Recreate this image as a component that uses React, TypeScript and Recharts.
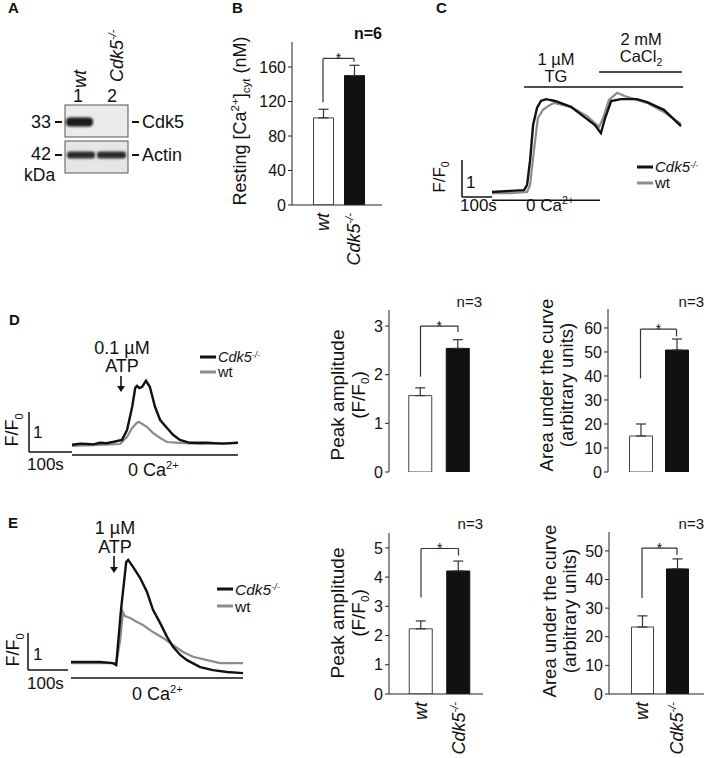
import React from 'react';
import { BarChart, Bar, Cell, XAxis, YAxis, ErrorBar, ReferenceLine, LineChart, Line } from 'recharts';

const FONT = '"Liberation Sans", Arial, Helvetica, sans-serif';

// ---------- bar data ----------
const groups = ['wt', 'Cdk5-/-'];
const restingCa = [101, 150];
const restingCaErr = [10, 12];
const peakLowAtp = [1.57, 2.54];
const peakLowAtpErr = [0.16, 0.18];
const aucLowAtp = [15, 50.8];
const aucLowAtpErr = [5, 4.6];
const peakHighAtp = [2.23, 4.21];
const peakHighAtpErr = [0.27, 0.34];
const aucHighAtp = [23.4, 43.7];
const aucHighAtpErr = [3.9, 3.5];

// significance brackets: [start above wt, top, end above Cdk5]
const bracketB = [119, 170, 166];
const bracketD1 = [1.96, 3.0, 2.88];
const bracketD2 = [39, 59.5, 56.5];
const bracketE1 = [3.3, 4.98, 4.74];
const bracketE2 = [33.5, 51, 48.6];

// tick labels
const ticksB = [0, 40, 80, 120, 160];
const ticksPeakLow = [0, 1, 2, 3];
const ticksAucLow = [0, 10, 20, 30, 40, 50, 60];
const ticksPeakHigh = [0, 1, 2, 3, 4, 5];
const ticksAucHigh = [0, 10, 20, 30, 40, 50];

// ---------- traces (time s, F/F0) ----------
const cTimeCdk5 = [0, 60, 107, 117, 127, 137, 150, 163, 180, 210, 263, 317, 343, 363, 377, 397, 430, 483, 517, 573, 630];
const cCdk5 = [1.0, 1.03, 1.05, 1.19, 1.86, 2.81, 3.27, 3.46, 3.51, 3.46, 3.3, 2.97, 2.81, 2.59, 3.0, 3.46, 3.51, 3.51, 3.43, 3.22, 2.78];
const cTimeWt = [0, 60, 117, 127, 140, 153, 170, 187, 207, 263, 317, 357, 370, 390, 417, 450, 517, 573, 630];
const cWt = [0.97, 0.97, 1.0, 1.19, 2.14, 3.0, 3.22, 3.32, 3.41, 3.3, 3.05, 2.76, 3.0, 3.49, 3.68, 3.57, 3.41, 3.16, 2.84];

const dTimeCdk5 = [0, 20, 35, 50, 65, 80, 95, 116, 128, 140, 147, 151, 157, 163, 172, 181, 193, 205, 221, 235, 251, 274, 314, 350, 386];
const dCdk5 = [0.98, 1.01, 1.0, 0.99, 1.03, 1.02, 1.05, 1.1, 1.35, 1.93, 2.4, 2.45, 2.4, 2.43, 2.58, 2.43, 1.93, 1.6, 1.4, 1.23, 1.1, 1.03, 1.03, 1.01, 1.03];
const dTimeWt = [0, 65, 112, 128, 140, 151, 156, 174, 188, 205, 221, 251, 298, 386];
const dWt = [0.95, 0.98, 1.0, 1.18, 1.4, 1.53, 1.55, 1.43, 1.28, 1.15, 1.05, 1.03, 1.0, 1.03];

const eTimeCdk5 = [0, 73, 105, 113, 125, 138, 143, 155, 173, 190, 205, 223, 240, 255, 273, 290, 323, 355, 390, 430];
const eCdk5 = [1.0, 1.0, 0.97, 0.92, 2.41, 3.7, 3.76, 3.57, 3.27, 2.89, 2.41, 2.05, 1.68, 1.41, 1.19, 1.05, 0.86, 0.78, 0.73, 0.7];
const eTimeWt = [0, 105, 113, 123, 130, 135, 148, 165, 180, 205, 230, 255, 280, 305, 340, 373, 405, 430];
const eWt = [0.97, 0.97, 0.95, 1.59, 2.35, 2.24, 2.19, 2.08, 2.0, 1.81, 1.65, 1.46, 1.27, 1.14, 1.05, 0.97, 0.97, 0.97];

const BLACK = '#111';
const GRAY = '#8c8c8c';

const toPts = (t: number[], v: number[]) => t.map((tt, i) => ({ t: tt, v: v[i] }));

const RotTick = (props: any) => {
  const { x, y, payload } = props;
  const isCdk = payload.value !== 'wt';
  return (
    <text transform={`translate(${x},${y + 8}) rotate(-90)`} textAnchor="end" dy="0.35em" fontSize={18} fontStyle="italic" fontFamily={FONT} fill={BLACK}>
      {isCdk ? (
        <>
          Cdk5<tspan dy={-7} fontSize={11}>-/-</tspan>
        </>
      ) : (
        'wt'
      )}
    </text>
  );
};

type Box = { x0: number; y0: number; x1: number; y1: number };

function BarPanel(p: {
  values: number[]; errors: number[]; box: Box; yMax: number; ticks: number[];
  padL: number; padR: number; barSize: number; bracket: number[]; showX: boolean;
  cl: number; ct: number; cw: number; ch: number;
}) {
  const data = groups.map((g, i) => ({ g, v: p.values[i], e: [0, p.errors[i]] }));
  const wY = 50;
  const hX = p.showX ? 60 : 0;
  const margin = {
    left: p.box.x0 - p.cl - wY,
    top: p.box.y0 - p.ct,
    right: p.cl + p.cw - p.box.x1,
    bottom: p.ct + p.ch - p.box.y1 - hX,
  };
  const stroke = '#222';
  return (
    <div style={{ position: 'absolute', left: p.cl, top: p.ct }}>
      <BarChart width={p.cw} height={p.ch} data={data} margin={margin}>
        <XAxis dataKey="g" padding={{ left: p.padL, right: p.padR }} height={hX} axisLine={{ stroke }} tickLine={false} tickSize={0} tickMargin={0} tick={p.showX ? <RotTick /> : false} interval={0} />
        <XAxis xAxisId="top" orientation="top" height={0} tick={false} tickLine={false} axisLine={{ stroke }} />
        <YAxis domain={[0, p.yMax]} ticks={p.ticks} width={wY} allowDataOverflow interval={0} tickSize={4} tickMargin={2} tick={{ fontSize: 16, fill: BLACK, fontFamily: FONT }} axisLine={{ stroke }} tickLine={{ stroke }} />
        <YAxis yAxisId="right" orientation="right" width={0} tick={false} tickLine={false} axisLine={{ stroke }} />
        <Bar dataKey="v" barSize={p.barSize} isAnimationActive={false}>
          {data.map((d, i) => (
            <Cell key={i} fill={i === 0 ? '#fff' : BLACK} stroke={i === 0 ? '#444' : BLACK} strokeWidth={1} />
          ))}
          <ErrorBar dataKey="e" width={5} stroke="#333" strokeWidth={1.2} direction="y" />
        </Bar>
        <ReferenceLine segment={[{ x: groups[0], y: p.bracket[0] }, { x: groups[0], y: p.bracket[1] }]} stroke="#333" strokeWidth={1.2} />
        <ReferenceLine
          segment={[{ x: groups[0], y: p.bracket[1] }, { x: groups[1], y: p.bracket[1] }]}
          stroke="#333"
          strokeWidth={1.2}
          label={{ value: '*', position: 'center', fontSize: 14, fill: BLACK, fontFamily: FONT }}
        />
        <ReferenceLine segment={[{ x: groups[1], y: p.bracket[1] }, { x: groups[1], y: p.bracket[2] }]} stroke="#333" strokeWidth={1.2} />
      </BarChart>
    </div>
  );
}

function TracePanel(p: {
  cdk5: { t: number; v: number }[]; wt: { t: number; v: number }[];
  xDom: number[]; yDom: number[]; plot: Box; cl: number; ct: number; cw: number; ch: number;
  segs: { a: number[]; b: number[]; w?: number }[];
}) {
  const margin = {
    left: p.plot.x0 - p.cl,
    right: p.cl + p.cw - p.plot.x1,
    top: p.plot.y0 - p.ct,
    bottom: p.ct + p.ch - p.plot.y1,
  };
  return (
    <div style={{ position: 'absolute', left: p.cl, top: p.ct }}>
      <LineChart width={p.cw} height={p.ch} margin={margin}>
        <XAxis type="number" dataKey="t" domain={p.xDom} allowDataOverflow hide />
        <YAxis type="number" domain={p.yDom} allowDataOverflow hide />
        {p.segs.map((s, i) => (
          <ReferenceLine key={i} segment={[{ x: s.a[0], y: s.a[1] }, { x: s.b[0], y: s.b[1] }]} stroke={BLACK} strokeWidth={s.w ?? 1.5} ifOverflow="visible" />
        ))}
        <Line data={p.wt} dataKey="v" stroke={GRAY} strokeWidth={2.2} dot={false} isAnimationActive={false} type="linear" />
        <Line data={p.cdk5} dataKey="v" stroke={BLACK} strokeWidth={2.4} dot={false} isAnimationActive={false} type="linear" />
      </LineChart>
    </div>
  );
}

const T = (props: any) => <text fontFamily={FONT} fill={BLACK} {...props} />;

const Sup = ({ s, fs }: { s: string; fs: number }) => (
  <tspan dy={-fs * 0.4} fontSize={fs * 0.62}>{s}</tspan>
);

function Legend({ x, y1, y2, fs }: { x: number; y1: number; y2: number; fs: number }) {
  return (
    <g>
      <line x1={x} y1={y1} x2={x + 16} y2={y1} stroke={BLACK} strokeWidth={3} />
      <T x={x + 18} y={y1 + fs * 0.36} fontSize={fs} fontStyle="italic">
        Cdk5<tspan dy={-fs * 0.3} fontSize={fs * 0.58}>-/-</tspan>
      </T>
      <line x1={x} y1={y2} x2={x + 16} y2={y2} stroke={GRAY} strokeWidth={3} />
      <T x={x + 18} y={y2 + fs * 0.36} fontSize={fs}>wt</T>
    </g>
  );
}

function FF0({ x, y, fs }: { x: number; y: number; fs: number }) {
  return (
    <T transform={`translate(${x},${y}) rotate(-90)`} textAnchor="middle" dy="0.35em" fontSize={fs}>
      F/F<tspan dy={fs * 0.25} fontSize={fs * 0.62}>0</tspan>
    </T>
  );
}

function RotLabel({ x1, x2, y, l1, l2, fs, sub }: { x1: number; x2: number; y: number; l1: string; l2: string; fs: number; sub?: boolean }) {
  return (
    <g>
      <T transform={`translate(${x1},${y}) rotate(-90)`} textAnchor="middle" dy="0.35em" fontSize={fs}>{l1}</T>
      <T transform={`translate(${x2},${y}) rotate(-90)`} textAnchor="middle" dy="0.35em" fontSize={fs}>
        {sub ? (
          <>
            (F/F<tspan dy={fs * 0.25} fontSize={fs * 0.62}>0</tspan>
            <tspan dy={-fs * 0.25}>)</tspan>
          </>
        ) : (
          l2
        )}
      </T>
    </g>
  );
}

function Arrow({ x, y1, y2 }: { x: number; y1: number; y2: number }) {
  return (
    <g>
      <line x1={x} y1={y1} x2={x} y2={y2 - 4} stroke={BLACK} strokeWidth={1.6} />
      <polygon points={`${x - 4},${y2 - 6} ${x + 4},${y2 - 6} ${x},${y2}`} fill={BLACK} />
    </g>
  );
}

function Overlay() {
  return (
    <svg width={708} height={758} style={{ position: 'absolute', left: 0, top: 0 }}>
      <defs>
        <filter id="blur" x="-20%" y="-50%" width="140%" height="200%">
          <feGaussianBlur stdDeviation="1.3" />
        </filter>
      </defs>
      {/* panel letters */}
      <T x={8} y={13} fontSize={15} fontWeight="bold">A</T>
      <T x={232} y={13} fontSize={15} fontWeight="bold">B</T>
      <T x={436} y={13} fontSize={15} fontWeight="bold">C</T>
      <T x={9} y={325} fontSize={15} fontWeight="bold">D</T>
      <T x={8} y={528} fontSize={15} fontWeight="bold">E</T>

      {/* Panel A western blot */}
      <T transform="translate(86,88) rotate(-90)" fontSize={18} fontStyle="italic">wt</T>
      <T transform="translate(123,82) rotate(-90)" fontSize={18} fontStyle="italic">
        Cdk5<tspan dy={-7} fontSize={11}>-/-</tspan>
      </T>
      <T x={78} y={102} textAnchor="middle" fontSize={18}>1</T>
      <T x={112} y={102} textAnchor="middle" fontSize={18}>2</T>
      <rect x={65} y={105} width={63} height={32} fill="#ebebeb" stroke="#555" strokeWidth={1} />
      <rect x={65} y={141} width={63} height={32} fill="#e6e6e6" stroke="#555" strokeWidth={1} />
      <rect x={66} y={117.5} width={27} height={9} rx={4} fill="#1c1c1c" filter="url(#blur)" />
      <rect x={67} y={151.5} width={28} height={7} rx={3} fill="#2a2a2a" filter="url(#blur)" />
      <rect x={97} y={151.5} width={29} height={7} rx={3} fill="#2a2a2a" filter="url(#blur)" />
      <T x={51} y={128} textAnchor="end" fontSize={18}>33</T>
      <T x={51} y={160} textAnchor="end" fontSize={18}>42</T>
      <T x={24} y={181} fontSize={17.5}>kDa</T>
      <T x={142} y={128} fontSize={18}>Cdk5</T>
      <T x={142} y={161} fontSize={18}>Actin</T>
      <line x1={55} y1={122} x2={62} y2={122} stroke={BLACK} strokeWidth={2} />
      <line x1={55} y1={155} x2={62} y2={155} stroke={BLACK} strokeWidth={2} />
      <line x1={132} y1={122} x2={139} y2={122} stroke={BLACK} strokeWidth={2} />
      <line x1={132} y1={155} x2={139} y2={155} stroke={BLACK} strokeWidth={2} />

      {/* Panel B */}
      <T transform="translate(240,121) rotate(-90)" textAnchor="middle" dy="0.35em" fontSize={18}>
        Resting [Ca<tspan dy={-7} fontSize={11.5}>2+</tspan>
        <tspan dy={7}>]</tspan>
        <tspan dy={4} fontSize={11.5}>cyt</tspan>
        <tspan dy={-4}> (nM)</tspan>
      </T>
      <T x={382} y={39} textAnchor="end" fontSize={16} fontWeight="bold">n=6</T>

      {/* Panel C */}
      <T x={556} y={65} textAnchor="middle" fontSize={16.5}>1 µM</T>
      <T x={556} y={82} textAnchor="middle" fontSize={16.5}>TG</T>
      <T x={641} y={45} textAnchor="middle" fontSize={16.5}>2 mM</T>
      <T x={641} y={62} textAnchor="middle" fontSize={16.5}>
        CaCl<tspan dy={4} fontSize={10.5}>2</tspan>
      </T>
      <FF0 x={439} y={177} fs={17} />
      <T x={466} y={188} fontSize={17}>1</T>
      <T x={460} y={211} fontSize={17}>100s</T>
      <T x={526} y={211} fontSize={17}>
        0 Ca<Sup s="2+" fs={17} />
      </T>
      <Legend x={637} y1={167} y2={183} fs={15} />

      {/* Panel D traces */}
      <T x={122} y={354} textAnchor="middle" fontSize={18}>0.1 µM</T>
      <T x={122} y={372} textAnchor="middle" fontSize={18}>ATP</T>
      <Arrow x={121} y1={376} y2={392} />
      <Legend x={200} y1={357} y2={372} fs={14.5} />
      <FF0 x={12} y={430} fs={18} />
      <T x={33} y={438} fontSize={17}>1</T>
      <T x={27} y={470} fontSize={17}>100s</T>
      <T x={128} y={476} fontSize={18}>
        0 Ca<Sup s="2+" fs={18} />
      </T>

      {/* Panel D bars */}
      <RotLabel x1={337} x2={358} y={395} l1="Peak amplitude" l2="" fs={19} sub />
      <T x={482} y={307} textAnchor="end" fontSize={15}>n=3</T>
      <RotLabel x1={547} x2={567} y={385} l1="Area under the curve" l2="(arbitrary units)" fs={18.5} />
      <T x={704} y={307} textAnchor="end" fontSize={15}>n=3</T>

      {/* Panel E traces */}
      <T x={115} y={534} textAnchor="middle" fontSize={18}>1 µM</T>
      <T x={115} y={553} textAnchor="middle" fontSize={18}>ATP</T>
      <Arrow x={114} y1={556} y2={573} />
      <Legend x={217} y1={589} y2={606} fs={15.5} />
      <FF0 x={13} y={650} fs={18} />
      <T x={33} y={660} fontSize={17}>1</T>
      <T x={27} y={689} fontSize={17}>100s</T>
      <T x={132} y={700} fontSize={18}>
        0 Ca<Sup s="2+" fs={18} />
      </T>

      {/* Panel E bars */}
      <RotLabel x1={337} x2={358} y={613} l1="Peak amplitude" l2="" fs={19} sub />
      <T x={483} y={529} textAnchor="end" fontSize={15}>n=3</T>
      <RotLabel x1={550} x2={570} y={611} l1="Area under the curve" l2="(arbitrary units)" fs={18.5} />
      <T x={704} y={529} textAnchor="end" fontSize={15}>n=3</T>
    </svg>
  );
}

export default function App() {
  return (
    <div style={{ position: 'absolute', left: 0, top: 0, width: 708, height: 758, background: '#fff', fontFamily: FONT, overflow: 'hidden' }}>
      {/* B */}
      <BarPanel values={restingCa} errors={restingCaErr} box={{ x0: 292, y0: 42, x1: 382, y1: 205 }} yMax={189} ticks={ticksB}
        padL={15.5} padR={12.5} barSize={20} bracket={bracketB} showX cl={200} ct={20} cw={190} ch={260} />
      {/* D bars */}
      <BarPanel values={peakLowAtp} errors={peakLowAtpErr} box={{ x0: 389, y0: 310, x1: 482, y1: 472 }} yMax={3.33} ticks={ticksPeakLow}
        padL={12.75} padR={5.25} barSize={23} bracket={bracketD1} showX={false} cl={300} ct={290} cw={190} ch={190} />
      <BarPanel values={aucLowAtp} errors={aucLowAtpErr} box={{ x0: 608, y0: 309, x1: 704, y1: 472 }} yMax={67.9} ticks={ticksAucLow}
        padL={14.5} padR={9.5} barSize={23} bracket={bracketD2} showX={false} cl={520} ct={290} cw={188} ch={190} />
      {/* E bars */}
      <BarPanel values={peakHighAtp} errors={peakHighAtpErr} box={{ x0: 389, y0: 533, x1: 483, y1: 694 }} yMax={5.51} ticks={ticksPeakHigh}
        padL={13.25} padR={5.75} barSize={23} bracket={bracketE1} showX cl={300} ct={510} cw={190} ch={248} />
      <BarPanel values={aucHighAtp} errors={aucHighAtpErr} box={{ x0: 609, y0: 532, x1: 704, y1: 694 }} yMax={56.6} ticks={ticksAucHigh}
        padL={15.5} padR={9.5} barSize={22} bracket={bracketE2} showX cl={520} ct={510} cw={188} ch={248} />

      {/* C trace */}
      <TracePanel cdk5={toPts(cTimeCdk5, cCdk5)} wt={toPts(cTimeWt, cWt)} xDom={[-100, 640]} yDom={[0.5, 4.5]}
        plot={{ x0: 462, x1: 684, y0: 62.5, y1: 210.5 }} cl={440} ct={30} cw={268} ch={200}
        segs={[
          { a: [-100, 0.865], b: [0, 0.865] },
          { a: [-100, 0.865], b: [-100, 1.865] },
          { a: [0, 0.78], b: [360, 0.78] },
          { a: [107, 3.84], b: [637, 3.84] },
          { a: [357, 4.24], b: [633, 4.24] },
        ]} />
      {/* D trace */}
      <TracePanel cdk5={toPts(dTimeCdk5, dCdk5)} wt={toPts(dTimeWt, dWt)} xDom={[-100, 390]} yDom={[0.5, 3.0]}
        plot={{ x0: 29, x1: 239.7, y0: 364, y1: 464 }} cl={0} ct={340} cw={260} ch={140}
        segs={[
          { a: [-100, 0.8], b: [0, 0.8] },
          { a: [-100, 0.8], b: [-100, 1.8] },
          { a: [0, 0.725], b: [386, 0.725] },
        ]} />
      {/* E trace */}
      <TracePanel cdk5={toPts(eTimeCdk5, eCdk5)} wt={toPts(eTimeWt, eWt)} xDom={[-110, 432]} yDom={[0.3, 4.0]}
        plot={{ x0: 27, x1: 243.8, y0: 551, y1: 687.9 }} cl={0} ct={540} cw={260} ch={160}
        segs={[
          { a: [-107.5, 0.784], b: [-7.5, 0.784] },
          { a: [-107.5, 0.784], b: [-107.5, 1.784] },
          { a: [0, 0.568], b: [430, 0.568] },
        ]} />
      <Overlay />
    </div>
  );
}
